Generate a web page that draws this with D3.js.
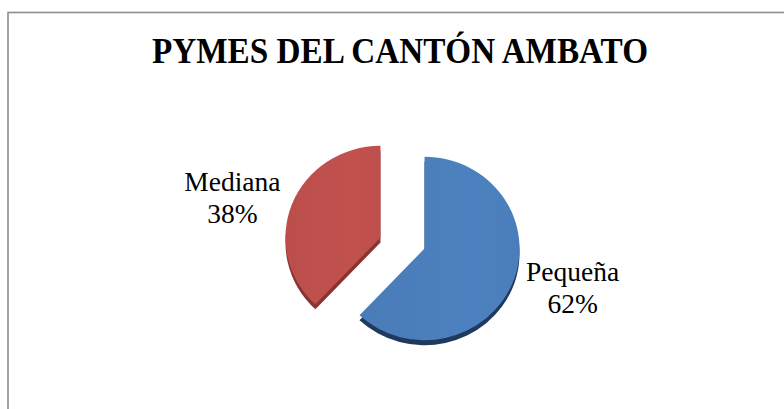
<!DOCTYPE html>
<html lang="es">
<head>
<meta charset="utf-8">
<title>PYMES del cantón Ambato</title>
<script src="https://cdn.jsdelivr.net/npm/d3@7"></script>
<style>
  html, body { margin: 0; padding: 0; background: #fff; }
  svg { display: block; }
</style>
</head>
<body>
<div id="chart"></div>
<script>
// Company size shares in the Ambato canton
const categories = ["Pequeña", "Mediana"];
const shares = [62, 38];
const sliceColors = ["#4A7EBB", "#BE4F4C"];
const edgeColors = ["#1F3A5E", "#8A3431"];
const title = "PYMES DEL CANTÓN AMBATO";

const W = 784, H = 409;
const cx = 402.5, cy = 243;      // pie centre
const radius = 95;
const squash = 0.965;            // slight tilt of the disc
const explode = 23.7;            // distance each slice is pulled out
const explodeY = 0.63;
const thickness = 5;             // visible rim under the slices
const labelR = 183, labelY = 0.668;
const serif = "'Times New Roman', 'Liberation Serif', Tinos, Times, serif";

const svg = d3.select("#chart").append("svg")
  .attr("width", W).attr("height", H);

// chart frame
svg.append("rect")
  .attr("x", 8).attr("y", 12.5)
  .attr("width", W + 20).attr("height", H + 20)
  .attr("fill", "none")
  .attr("stroke", "#8c8c8c")
  .attr("stroke-width", 1.6);

svg.append("text")
  .attr("x", 400).attr("y", 63)
  .attr("text-anchor", "middle")
  .attr("font-family", serif)
  .attr("font-weight", "bold")
  .attr("font-size", 35)
  .attr("textLength", 496)
  .attr("lengthAdjust", "spacingAndGlyphs")
  .attr("fill", "#000")
  .text(title);

const defs = svg.append("defs");
sliceColors.forEach((c, i) => {
  const g = defs.append("linearGradient")
    .attr("id", "grad" + i)
    .attr("x1", "0%").attr("y1", "0%").attr("x2", "100%").attr("y2", "0%");
  const base = d3.color(c);
  g.append("stop").attr("offset", "0%").attr("stop-color", base.darker(0.05));
  g.append("stop").attr("offset", "70%").attr("stop-color", base.brighter(0.06));
  g.append("stop").attr("offset", "100%").attr("stop-color", base);
});

const data = categories.map((name, i) => ({ name, value: shares[i], i }));
const pie = d3.pie().sort(null).value(d => d.value);
const arcs = pie(data);
const arc = d3.arc().innerRadius(0).outerRadius(radius);

function offset(a) {
  const mid = (a.startAngle + a.endAngle) / 2;
  return [explode * Math.sin(mid), -explode * Math.cos(mid) * explodeY];
}

const slices = svg.append("g");
arcs.forEach(a => {
  const [dx, dy] = offset(a);
  const g = slices.append("g")
    .attr("transform", `translate(${cx + dx},${cy + dy}) scale(1,${squash})`);
  // rim
  g.append("path")
    .attr("d", arc(a))
    .attr("transform", `translate(0,${thickness / squash})`)
    .attr("fill", edgeColors[a.data.i]);
  // top face
  g.append("path")
    .attr("d", arc(a))
    .attr("fill", `url(#grad${a.data.i})`);
});

// data labels
const labels = svg.append("g")
  .attr("font-family", serif)
  .attr("font-size", 27.5)
  .attr("fill", "#000")
  .attr("text-anchor", "middle");
arcs.forEach(a => {
  const mid = (a.startAngle + a.endAngle) / 2;
  const lx = cx + labelR * Math.sin(mid);
  const ly = cy - labelR * Math.cos(mid) * labelY;
  const t = labels.append("text").attr("x", lx).attr("y", ly - 7);
  t.append("tspan").attr("x", lx).text(a.data.name);
  t.append("tspan").attr("x", lx).attr("dy", 32).text(a.data.value + "%");
});
</script>
</body>
</html>
